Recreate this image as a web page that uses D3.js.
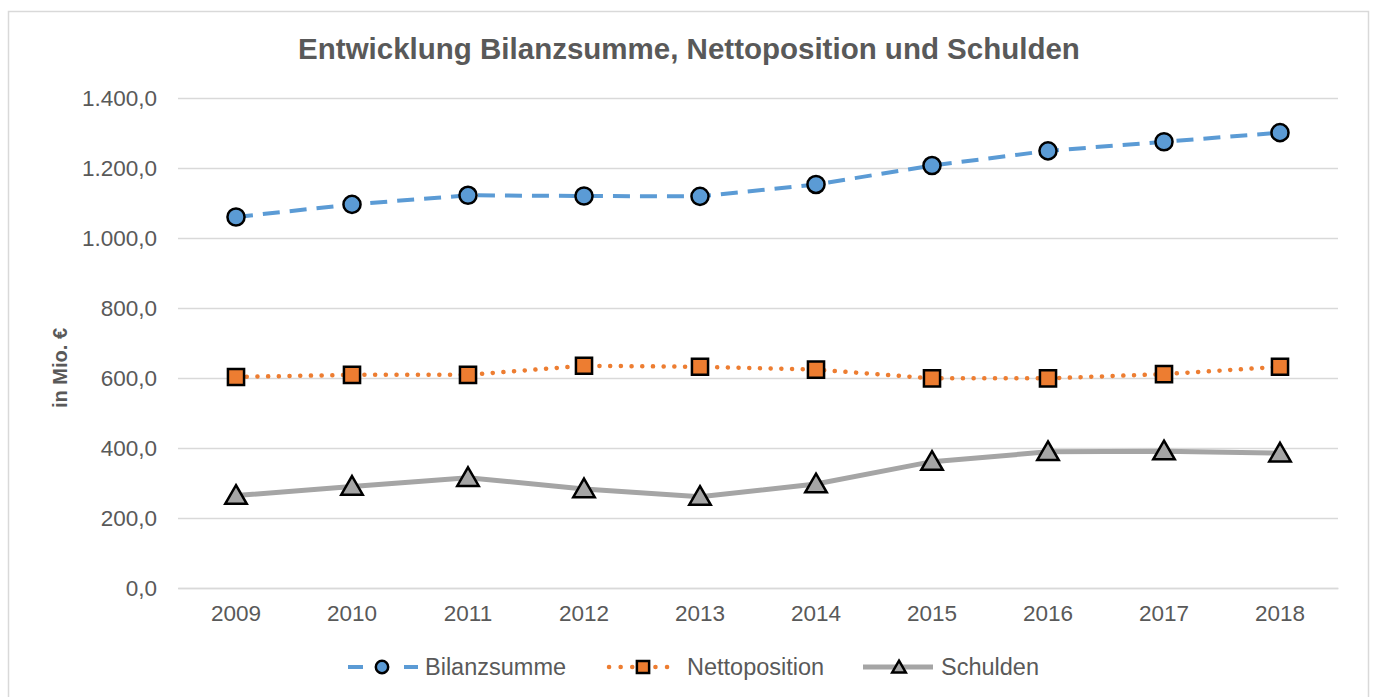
<!DOCTYPE html>
<html>
<head>
<meta charset="utf-8">
<script src="https://cdn.jsdelivr.net/npm/d3@7"></script>
<style>
  body { margin: 0; background: #fff; }
  text { font-family: "Liberation Sans", Arial, sans-serif; fill: #595959; }
</style>
</head>
<body>
<div id="chart"></div>
<script>
var years = ["2009", "2010", "2011", "2012", "2013", "2014", "2015", "2016", "2017", "2018"];
var bilanzsumme = [1060, 1096, 1122, 1120, 1119, 1153, 1207, 1249, 1275, 1301];
var nettoposition = [603, 609, 609, 635, 632, 624, 599, 599, 611, 632];
var schulden = [264, 290, 315, 283, 261, 297, 361, 389, 391, 385];
var yTicks = [0, 200, 400, 600, 800, 1000, 1200, 1400];

var svgWidth = 1375;
var svgHeight = 697;
var margin = { top: 98, right: 37, bottom: 109, left: 178 };
var width = svgWidth - margin.left - margin.right;
var height = svgHeight - margin.top - margin.bottom;

var svg = d3.select("#chart")
    .append("svg")
    .attr("width", svgWidth)
    .attr("height", svgHeight);

// outer frame
svg.append("rect")
    .attr("x", 8.5).attr("y", 11.5)
    .attr("width", 1360).attr("height", 700)
    .attr("fill", "none")
    .attr("stroke", "#D9D9D9")
    .attr("stroke-width", 1.5);

var chartGroup = svg.append("g")
    .attr("transform", `translate(${margin.left},${margin.top})`);

var xScale = d3.scaleBand()
    .domain(years)
    .range([0, width]);

var yScale = d3.scaleLinear()
    .domain([0, 1400])
    .range([height, 0]);

var fmt = function(v) {
    return d3.format(",.1f")(v).replace(/,/g, "#").replace(".", ",").replace(/#/g, ".");
};

// gridlines
chartGroup.append("g")
    .call(d3.axisLeft(yScale).tickValues(yTicks).tickSize(-width).tickFormat(""))
    .call(g => g.select(".domain").remove())
    .selectAll("line")
    .attr("stroke", "#D9D9D9")
    .attr("stroke-width", 1.5);

// y axis labels
var yAxis = chartGroup.append("g")
    .call(d3.axisLeft(yScale).tickValues(yTicks).tickSize(0).tickPadding(21).tickFormat(fmt));
yAxis.select(".domain").remove();
yAxis.selectAll("text")
    .style("font-size", "22.5px")
    .attr("fill", "#595959");

// x axis
var xAxis = chartGroup.append("g")
    .attr("transform", `translate(0,${height})`)
    .call(d3.axisBottom(xScale).tickSize(0).tickPadding(17));
xAxis.select(".domain").attr("stroke", "#D9D9D9").attr("stroke-width", 1.5);
xAxis.selectAll("text")
    .style("font-size", "22.5px")
    .attr("fill", "#595959");

var cx = d => xScale(d) + xScale.bandwidth() / 2;

var series = [
    { name: "Bilanzsumme", values: bilanzsumme, color: "#5B9BD5", dash: "17,10", width: 4, cap: "butt", marker: "circle", legendDash: "15,41" },
    { name: "Nettoposition", values: nettoposition, color: "#ED7D31", dash: "0.1,10.6", width: 4.5, cap: "round", marker: "square", legendDash: "0.1,11.5" },
    { name: "Schulden", values: schulden, color: "#A5A5A5", dash: null, width: 5, cap: "butt", marker: "triangle", legendDash: null }
];

var symbolType = { circle: d3.symbolCircle, square: d3.symbolSquare, triangle: d3.symbolTriangle };
var markerSize = { circle: 230, square: 260, triangle: 200 };
var legendSize = { circle: 120, square: 150, triangle: 80 };

var line = d3.line()
    .x((d, i) => cx(years[i]))
    .y(d => yScale(d));

series.forEach(function(s) {
    chartGroup.append("path")
        .datum(s.values)
        .attr("d", line)
        .attr("fill", "none")
        .attr("stroke", s.color)
        .attr("stroke-width", s.width)
        .attr("stroke-linecap", s.cap)
        .attr("stroke-dasharray", s.dash);
});

series.forEach(function(s) {
    chartGroup.selectAll(".m-" + s.marker)
        .data(s.values)
        .enter()
        .append("path")
        .attr("class", "m-" + s.marker)
        .attr("d", d3.symbol().type(symbolType[s.marker]).size(markerSize[s.marker]))
        .attr("transform", (d, i) => `translate(${cx(years[i])},${yScale(d) + (s.marker === "triangle" ? 2 : 0)})`)
        .attr("fill", s.color)
        .attr("stroke", "#000")
        .attr("stroke-width", 2.5);
});

// title
svg.append("text")
    .attr("x", 689)
    .attr("y", 59)
    .attr("text-anchor", "middle")
    .style("font-size", "29.5px")
    .style("font-weight", "bold")
    .text("Entwicklung Bilanzsumme, Nettoposition und Schulden");

// y axis title
svg.append("text")
    .attr("transform", "rotate(-90)")
    .attr("x", -368)
    .attr("y", 67)
    .attr("text-anchor", "middle")
    .style("font-size", "20px")
    .style("font-weight", "bold")
    .text("in Mio. €");

// legend
var legendX = [348, 604, 863];
var markerX = [34, 39, 36];
var legend = svg.append("g").attr("transform", "translate(0,667)");
series.forEach(function(s, i) {
    var g = legend.append("g").attr("transform", `translate(${legendX[i]},0)`);
    g.append("line")
        .attr("x1", s.cap === "round" ? 5 : 0).attr("x2", 70)
        .attr("y1", 0).attr("y2", 0)
        .attr("stroke", s.color)
        .attr("stroke-width", s.width)
        .attr("stroke-linecap", s.cap)
        .attr("stroke-dasharray", s.legendDash);
    g.append("path")
        .attr("d", d3.symbol().type(symbolType[s.marker]).size(legendSize[s.marker]))
        .attr("transform", `translate(${markerX[i]},${s.marker === "triangle" ? 1.5 : 0})`)
        .attr("fill", s.color)
        .attr("stroke", "#000")
        .attr("stroke-width", 2.5);
    g.append("text")
        .attr("x", [77, 83, 78][i])
        .attr("y", 7.5)
        .style("font-size", "23.5px")
        .text(s.name);
});
</script>
</body>
</html>
